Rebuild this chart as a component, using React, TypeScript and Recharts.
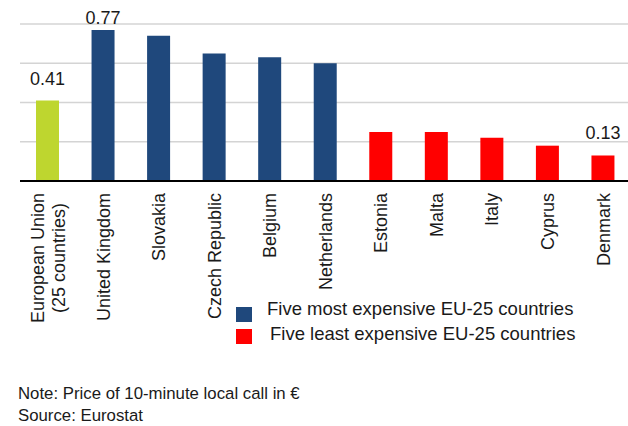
import React from "react"
import { BarChart, Bar, XAxis, YAxis, CartesianGrid, Cell, LabelList, Legend } from "recharts"

const countries = [
  "European Union\n(25 countries)",
  "United Kingdom",
  "Slovakia",
  "Czech Republic",
  "Belgium",
  "Netherlands",
  "Estonia",
  "Malta",
  "Italy",
  "Cyprus",
  "Denmark",
]

// price of a 10-minute local call, EUR
const prices = [0.41, 0.77, 0.74, 0.65, 0.63, 0.6, 0.25, 0.25, 0.22, 0.18, 0.13]

const groups = ["eu", "most", "most", "most", "most", "most", "least", "least", "least", "least", "least"]

const labelled = ["European Union\n(25 countries)", "United Kingdom", "Denmark"]

const yTicks = [0, 0.2, 0.4, 0.6, 0.8]

const legendItems = [
  { group: "most", text: "Five most expensive EU-25 countries" },
  { group: "least", text: "Five least expensive EU-25 countries" },
]

const COLORS: Record<string, string> = {
  eu: "#BED62F",
  most: "#1F487C",
  least: "#FF0000",
}

const FONT = '"Liberation Sans", Arial, sans-serif'
const TEXT = "#1a1a1a"

const data = countries.map((name, i) => ({
  name,
  value: prices[i],
  group: groups[i],
  label: labelled.includes(name) ? prices[i].toFixed(2) : undefined,
}))

let ctx: CanvasRenderingContext2D | null = null
function textWidth(s: string, size: number) {
  if (!ctx) ctx = document.createElement("canvas").getContext("2d")
  if (!ctx) return s.length * size * 0.5
  ctx.font = `${size}px "Liberation Sans", Arial`
  return ctx.measureText(s).width
}

function CategoryTick(props: any) {
  const { x, y, payload } = props
  const lines: string[] = String(payload.value).split("\n")
  const size = 18
  const maxW = Math.max(...lines.map((l) => textWidth(l, size)))
  const cy = y + maxW / 2
  return (
    <g>
      {lines.map((line, i) => {
        const lx = x + (i - (lines.length - 1) / 2) * 21
        return (
          <text
            key={i}
            x={lx}
            y={cy}
            dy="0.35em"
            textAnchor="middle"
            transform={`rotate(-90, ${lx}, ${cy})`}
            fontSize={size}
            fontFamily={FONT}
            fill={TEXT}
          >
            {line}
          </text>
        )
      })}
    </g>
  )
}

function ValueLabel(props: any) {
  const { x, y, width, value } = props
  if (value === undefined || value === null || value === "") return null
  const ty = Math.max(y - 16, 24)
  return (
    <text x={x + width / 2} y={ty} textAnchor="middle" fontSize={18} fontFamily={FONT} fill={TEXT}>
      {value}
    </text>
  )
}

function LegendBox() {
  return (
    <div style={{ position: "relative", width: 380, height: 50, fontFamily: FONT }}>
      {legendItems.map((item, i) => (
        <React.Fragment key={item.group}>
          <div
            style={{
              position: "absolute",
              left: 0,
              top: 7 + i * 22,
              width: 16,
              height: 15,
              background: COLORS[item.group],
            }}
          />
          <div
            style={{
              position: "absolute",
              left: 31 + i * 3,
              top: i * 25,
              fontSize: 18.5,
              lineHeight: "18px",
              color: TEXT,
              whiteSpace: "nowrap",
            }}
          >
            {item.text}
          </div>
        </React.Fragment>
      ))}
    </div>
  )
}

export default function App() {
  return (
    <div
      style={{
        position: "absolute",
        left: 0,
        top: 0,
        width: 628,
        height: 426,
        overflow: "hidden",
        background: "#fff",
        fontFamily: FONT,
      }}
    >
      <BarChart width={631} height={426} data={data} margin={{ top: 24, right: 0, left: 20, bottom: 0 }}>
        <CartesianGrid vertical={false} stroke="#d4d4d4" strokeWidth={1.5} />
        <XAxis
          dataKey="name"
          interval={0}
          height={245}
          axisLine={{ stroke: "#000", strokeWidth: 2 }}
          tickLine={false}
          tickSize={0}
          tickMargin={12}
          tick={<CategoryTick />}
        />
        <YAxis hide domain={[0, 0.8]} ticks={yTicks} />
        <Bar dataKey="value" barSize={23} isAnimationActive={false}>
          {data.map((d, i) => (
            <Cell key={`cell-${i}`} fill={COLORS[d.group]} />
          ))}
          <LabelList dataKey="label" content={<ValueLabel />} />
        </Bar>
        <Legend
          layout="vertical"
          align="center"
          verticalAlign="middle"
          content={<LegendBox />}
          wrapperStyle={{ left: 236, top: 300, width: 380, height: 50 }}
        />
      </BarChart>
      <div style={{ position: "absolute", left: 18, top: 383, fontSize: 16.8, lineHeight: "22px", color: TEXT }}>
        <div>Note: Price of 10-minute local call in €</div>
        <div>Source: Eurostat</div>
      </div>
    </div>
  )
}
